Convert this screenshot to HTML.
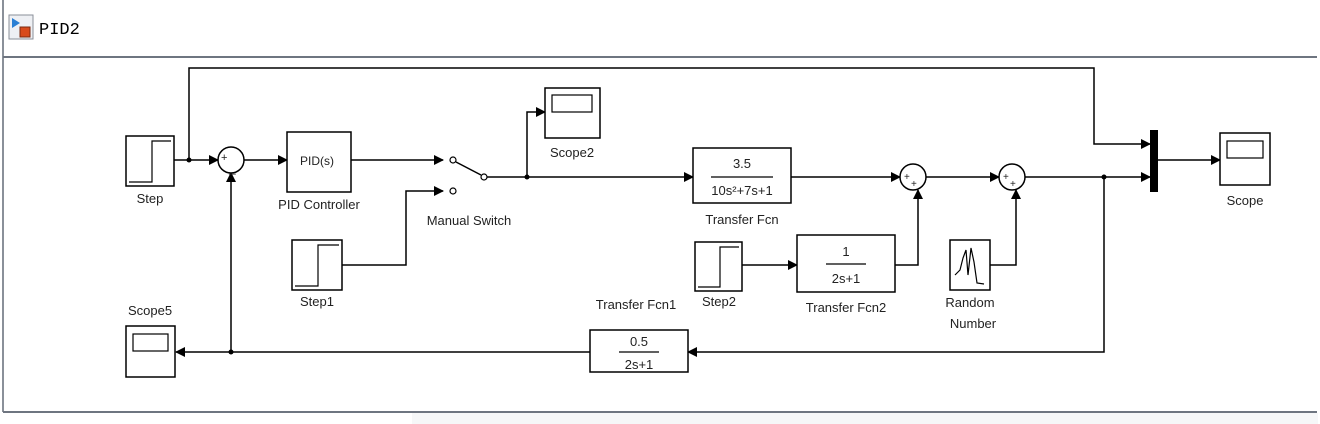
<!DOCTYPE html>
<html><head><meta charset="utf-8"><style>
html,body{margin:0;padding:0;background:#fff;}
svg{display:block}
text{font-family:"Liberation Sans",sans-serif;font-size:13px;fill:#222}
</style></head><body>
<svg width="1320" height="424" viewBox="0 0 1320 424" xmlns="http://www.w3.org/2000/svg">
<defs><marker id="a" markerWidth="10" markerHeight="10" refX="9" refY="5" orient="auto" markerUnits="userSpaceOnUse"><path d="M0,0 L10,5 L0,10 z" fill="#000"/></marker></defs>
<rect x="0" y="0" width="1320" height="424" fill="#fff"/>
<!-- header -->
<rect x="3" y="0" width="1314" height="56" fill="#fff"/>
<line x1="3" y1="0" x2="3" y2="412" stroke="#8a9099" stroke-width="2"/>
<line x1="3" y1="57" x2="1317" y2="57" stroke="#6e7580" stroke-width="2"/>
<line x1="3" y1="412" x2="1317" y2="412" stroke="#6e7580" stroke-width="2"/>
<rect x="412" y="413" width="906" height="11" fill="#f6f7f8"/>
<rect x="9" y="15" width="24" height="24" fill="#eef0f4" stroke="#8a8f99"/>
<path d="M12,18 L20,23 L12,28 z" fill="#2a7fd4"/>
<rect x="20" y="27" width="10" height="10" fill="#d84a1b" stroke="#7a2a10"/>
<text x="39" y="34" style="font-family:'Liberation Mono',monospace;font-size:17px;fill:#000">PID2</text>

<g fill="none" stroke="#000" stroke-width="1.5">
<!-- top feed line -->
<polyline points="189,160 189,68 1094,68 1094,144 1150,144" marker-end="url(#a)"/>
<line x1="174" y1="160" x2="218" y2="160" marker-end="url(#a)"/>
<line x1="244" y1="160" x2="287" y2="160" marker-end="url(#a)"/>
<line x1="351" y1="160" x2="443" y2="160" marker-end="url(#a)"/>
<polyline points="342,265 406,265 406,191 443,191" marker-end="url(#a)"/>
<line x1="456" y1="162" x2="481" y2="175"/>
<line x1="486" y1="177" x2="693" y2="177" marker-end="url(#a)"/>
<polyline points="527,177 527,112 545,112" marker-end="url(#a)"/>
<line x1="791" y1="177" x2="900" y2="177" marker-end="url(#a)"/>
<line x1="926" y1="177" x2="999" y2="177" marker-end="url(#a)"/>
<line x1="1025" y1="177" x2="1150" y2="177" marker-end="url(#a)"/>
<line x1="1158" y1="160" x2="1220" y2="160" marker-end="url(#a)"/>
<line x1="742" y1="265" x2="797" y2="265" marker-end="url(#a)"/>
<polyline points="895,265 918,265 918,190" marker-end="url(#a)"/>
<polyline points="990,265 1016,265 1016,190" marker-end="url(#a)"/>
<polyline points="1104,177 1104,352 688,352" marker-end="url(#a)"/>
<line x1="590" y1="352" x2="176" y2="352" marker-end="url(#a)"/>
<line x1="231" y1="352" x2="231" y2="173" marker-end="url(#a)"/>
</g>
<g fill="#000"><circle cx="189" cy="160" r="2.5"/><circle cx="527" cy="177" r="2.5"/><circle cx="1104" cy="177" r="2.5"/><circle cx="231" cy="352" r="2.5"/></g>
<g fill="#fff" stroke="#000" stroke-width="1.2">
<circle cx="453" cy="160" r="3"/><circle cx="453" cy="191" r="3"/><circle cx="484" cy="177" r="3"/>
</g>
<!-- blocks -->
<g fill="#fff" stroke="#000" stroke-width="1.5">
<rect x="126" y="136" width="48" height="50"/>
<rect x="292" y="240" width="50" height="50"/>
<rect x="695" y="242" width="47" height="49"/>
<rect x="287" y="132" width="64" height="60"/>
<rect x="693" y="148" width="98" height="55"/>
<rect x="797" y="235" width="98" height="57"/>
<rect x="590" y="330" width="98" height="42"/>
<rect x="545" y="88" width="55" height="50"/>
<rect x="1220" y="133" width="50" height="52"/>
<rect x="126" y="326" width="49" height="51"/>
<rect x="950" y="240" width="40" height="50"/>
<circle cx="231" cy="160" r="13"/>
<circle cx="913" cy="177" r="13"/>
<circle cx="1012" cy="177" r="13"/>
</g>
<rect x="1150" y="130" width="8" height="62" fill="#000"/>
<g fill="none" stroke="#000" stroke-width="1.2">
<polyline points="129,182 152,182 152,141 171,141"/>
<polyline points="295,286 318,286 318,245 339,245"/>
<polyline points="698,287 720,287 720,247 739,247"/>
<rect x="552" y="95" width="40" height="17"/>
<rect x="1227" y="141" width="36" height="17"/>
<rect x="133" y="334" width="35" height="17"/>
<line x1="711" y1="177" x2="773" y2="177"/>
<line x1="826" y1="264" x2="866" y2="264"/>
<line x1="619" y1="352" x2="659" y2="352"/>
<path d="M955,275 L960,270 L963,258 L966,250 L968,275 L971,248 L974,262 L977,283 L984,284"/>
</g>
<g text-anchor="middle">
<text x="150" y="203">Step</text>
<text x="317" y="165" style="font-size:12px">PID(s)</text>
<text x="319" y="209">PID Controller</text>
<text x="469" y="225">Manual Switch</text>
<text x="572" y="157">Scope2</text>
<text x="317" y="306">Step1</text>
<text x="742" y="168">3.5</text>
<text x="742" y="195">10s²+7s+1</text>
<text x="742" y="224">Transfer Fcn</text>
<text x="846" y="256">1</text>
<text x="846" y="283">2s+1</text>
<text x="846" y="312">Transfer Fcn2</text>
<text x="719" y="306">Step2</text>
<text x="970" y="307">Random</text>
<text x="973" y="328">Number</text>
<text x="1245" y="205">Scope</text>
<text x="636" y="309">Transfer Fcn1</text>
<text x="639" y="346">0.5</text>
<text x="639" y="369">2s+1</text>
<text x="150" y="315">Scope5</text>
</g>
<g style="font-size:10px" fill="#000">
<text x="221" y="161" style="font-size:11px">+</text><text x="229" y="172" style="font-size:12px">_</text>
<text x="904" y="180" style="font-size:10px">+</text><text x="911" y="187" style="font-size:10px">+</text>
<text x="1003" y="180" style="font-size:10px">+</text><text x="1010" y="187" style="font-size:10px">+</text>
</g>
</svg>
</body></html>
